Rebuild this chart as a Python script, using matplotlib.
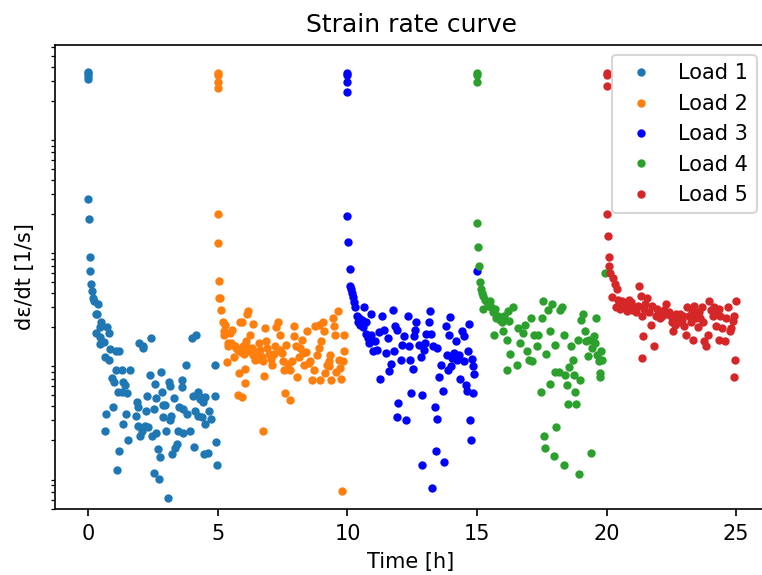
import numpy as np
import matplotlib
matplotlib.use("Agg")
import matplotlib.pyplot as plt

# Load 1 (0-5 h)
t1 = [0.0, 0.0, 0.0, 0.0, 0.0, 0.02, 0.05, 0.08, 0.1, 0.14,
      0.17, 0.22, 0.29, 0.3, 0.33, 0.37, 0.44, 0.45, 0.46, 0.5,
      0.59, 0.63, 0.66, 0.68, 0.73, 0.8, 0.8, 0.85, 0.91, 0.96,
      0.98, 1.05, 1.05, 1.1, 1.15, 1.17, 1.18, 1.3, 1.31, 1.34,
      1.35, 1.42, 1.45, 1.5, 1.55, 1.59, 1.83, 1.86, 1.9, 1.91,
      1.94, 2.0, 2.06, 2.12, 2.13, 2.2, 2.22, 2.25, 2.29, 2.4,
      2.42, 2.46, 2.52, 2.53, 2.57, 2.6, 2.62, 2.69, 2.72, 2.77,
      2.8, 2.84, 2.87, 2.9, 2.97, 2.99, 3.06, 3.1, 3.14, 3.16,
      3.2, 3.24, 3.29, 3.33, 3.44, 3.48, 3.51, 3.6, 3.62, 3.66,
      3.66, 3.77, 3.81, 3.94, 4.02, 4.04, 4.08, 4.13, 4.17, 4.22,
      4.24, 4.27, 4.32, 4.37, 4.42, 4.47, 4.51, 4.51, 4.62, 4.66,
      4.72, 4.87, 4.9, 4.93, 4.97]
r1 = [3.6e-6, 3.5e-6, 3.3e-6, 3.1e-6, 2.7e-7, 1.8e-7, 8.4e-8, 6.3e-8, 4.8e-8, 4.2e-8,
      3.6e-8, 3.4e-8, 2.6e-8, 1.77e-8, 2.6e-8, 3.2e-8, 2.0e-8, 1.43e-8, 1.63e-8, 2.2e-8,
      1.49e-8, 1.08e-8, 2.4e-9, 3.4e-9, 2.0e-8, 1.77e-8, 1.03e-8, 1.28e-8, 7.1e-9, 3.9e-9,
      6.5e-9, 1.24e-8, 8.4e-9, 1.1e-9, 5.3e-9, 1.6e-9, 1.22e-8, 5.3e-9, 8.4e-9, 6.6e-9,
      2.8e-9, 6.2e-9, 3.4e-9, 5.2e-9, 2.0e-9, 8.3e-9, 3.3e-9, 4.4e-9, 3.9e-9, 2.65e-9,
      1.45e-8, 2.2e-9, 2.4e-9, 1.3e-8, 1.35e-8, 2.7e-9, 3.6e-9, 4.9e-9, 2.6e-9, 7.6e-9,
      1.6e-8, 2.2e-9, 1.03e-9, 3.8e-9, 6.3e-9, 4.7e-9, 2.3e-9, 1.67e-9, 9.2e-10, 1.42e-9,
      8.1e-9, 5.3e-9, 3.2e-9, 4.1e-9, 4.1e-9, 2.4e-9, 6.2e-10, 6.5e-9, 6.0e-9, 3.0e-9,
      3.3e-9, 1.5e-9, 4.7e-9, 1.7e-9, 1.85e-9, 2.4e-9, 3.9e-9, 5.9e-9, 6.8e-9, 3.8e-9,
      2.3e-9, 9.3e-9, 3.4e-9, 2.4e-9, 1.6e-8, 4.9e-9, 1.75e-9, 3.6e-9, 1.7e-8, 5.3e-9,
      3.3e-9, 4.9e-9, 4.6e-9, 3.2e-9, 4.4e-9, 1.5e-9, 4.8e-9, 2.8e-9, 1.55e-9, 3.6e-9,
      3.1e-9, 4.9e-9, 9.3e-9, 1.95e-9, 1.2e-9]

# Load 2 (5-10 h)
t2 = [5.0, 5.0, 5.0, 5.0, 5.0, 5.02, 5.04, 5.06, 5.1, 5.13,
      5.2, 5.22, 5.25, 5.29, 5.35, 5.38, 5.4, 5.45, 5.5, 5.55,
      5.62, 5.66, 5.7, 5.79, 5.79, 5.83, 5.85, 5.9, 5.92, 5.92,
      5.98, 6.0, 6.05, 6.05, 6.09, 6.1, 6.14, 6.18, 6.18, 6.25,
      6.3, 6.35, 6.35, 6.44, 6.5, 6.57, 6.6, 6.63, 6.7, 6.76,
      6.76, 6.79, 6.83, 6.87, 6.9, 6.97, 7.05, 7.1, 7.15, 7.19,
      7.26, 7.33, 7.39, 7.4, 7.48, 7.52, 7.57, 7.6, 7.64, 7.71,
      7.77, 7.79, 7.85, 7.92, 7.95, 8.0, 8.05, 8.12, 8.18, 8.24,
      8.28, 8.33, 8.4, 8.44, 8.5, 8.57, 8.63, 8.7, 8.76, 8.83,
      8.89, 8.9, 8.96, 8.98, 9.06, 9.11, 9.15, 9.21, 9.28, 9.3,
      9.34, 9.38, 9.44, 9.47, 9.51, 9.57, 9.62, 9.66, 9.7, 9.75,
      9.8, 9.81, 9.85, 9.88]
r2 = [3.5e-6, 3.4e-6, 2.9e-6, 2.6e-6, 2.0e-7, 1.1e-7, 5.1e-8, 3.6e-8, 3.6e-8, 2.85e-8,
      2.24e-8, 1.83e-8, 1.7e-8, 2.1e-8, 9.9e-9, 1.46e-8, 1.35e-8, 1.77e-8, 1.45e-8, 1.9e-8,
      1.1e-8, 1.35e-8, 1.3e-8, 1.26e-8, 5.05e-9, 7.8e-9, 2.2e-8, 1.2e-8, 2.24e-8, 4.8e-9,
      1.35e-8, 1.15e-8, 8.6e-9, 6.4e-9, 1.5e-8, 1.35e-8, 2.6e-8, 2.75e-8, 1.22e-8, 1.72e-8,
      1.3e-8, 2.15e-8, 1.14e-8, 1.03e-8, 1.2e-8, 1.45e-8, 1.05e-8, 1.26e-8, 1.1e-8, 1.0e-8,
      2.4e-9, 7.4e-9, 1.95e-8, 1.5e-8, 1.3e-8, 1.15e-8, 1.05e-8, 9.3e-9, 1.15e-8, 1.35e-8,
      2.0e-8, 2.2e-8, 1.72e-8, 1.25e-8, 1.17e-8, 1.0e-8, 8.4e-9, 5.2e-9, 1.4e-8, 9.5e-9,
      8.3e-9, 4.5e-9, 1.0e-8, 2.05e-8, 1.68e-8, 1.35e-8, 7.3e-9, 1.1e-8, 1.3e-8, 1.55e-8,
      1.17e-8, 9.3e-9, 1.2e-8, 1.83e-8, 9.6e-9, 1.0e-8, 6.8e-9, 8.3e-9, 2.05e-8, 1.14e-8,
      2.1e-8, 1.3e-8, 6.8e-9, 1.5e-8, 2.2e-8, 1.83e-8, 7.8e-9, 9.3e-9, 1.0e-8, 9.0e-9,
      1.14e-8, 6.8e-9, 2.4e-8, 2.05e-8, 1.72e-8, 8.0e-9, 2.75e-8, 1.03e-8, 8.7e-9, 7.0e-9,
      7.2e-10, 1.0e-8, 1.72e-8, 1.22e-8]

# Load 3 (10-15 h)
t3 = [10.0, 10.0, 10.0, 10.0, 10.0, 10.04, 10.08, 10.1, 10.12, 10.16,
      10.2, 10.25, 10.3, 10.35, 10.4, 10.45, 10.5, 10.55, 10.6, 10.65,
      10.7, 10.72, 10.78, 10.85, 10.9, 10.92, 10.97, 11.05, 11.15, 11.2,
      11.25, 11.34, 11.4, 11.47, 11.55, 11.6, 11.69, 11.76, 11.79, 11.85,
      11.92, 11.92, 11.96, 12.05, 12.1, 12.18, 12.27, 12.33, 12.37, 12.43,
      12.46, 12.54, 12.56, 12.62, 12.66, 12.75, 12.82, 12.86, 12.89, 12.95,
      13.01, 13.05, 13.14, 13.2, 13.23, 13.27, 13.31, 13.36, 13.4, 13.44,
      13.47, 13.53, 13.6, 13.7, 13.73, 13.79, 13.83, 13.88, 13.92, 13.95,
      13.99, 14.05, 14.12, 14.18, 14.22, 14.31, 14.35, 14.41, 14.48, 14.5,
      14.57, 14.61, 14.66, 14.7, 14.73, 14.77, 14.79, 14.83, 14.86, 14.9,
      14.99]
r3 = [3.5e-6, 3.4e-6, 2.9e-6, 2.4e-6, 1.9e-7, 1.14e-7, 6.5e-8, 4.6e-8, 4.3e-8, 4.0e-8,
      3.7e-8, 3.35e-8, 3.0e-8, 2.5e-8, 2.2e-8, 2.4e-8, 2.1e-8, 2.3e-8, 2.0e-8, 3.0e-8,
      2.2e-8, 1.75e-8, 1.6e-8, 1.45e-8, 2.6e-8, 1.7e-8, 1.22e-8, 1.5e-8, 1.26e-8, 1.8e-8,
      6.9e-9, 2.5e-8, 1.9e-8, 1.17e-8, 1.6e-8, 8.2e-9, 9.4e-9, 2.85e-8, 1.22e-8, 2.05e-8,
      1.9e-8, 3.2e-9, 4.3e-9, 1.03e-8, 1.4e-8, 1.68e-8, 3.0e-9, 2.5e-8, 1.35e-8, 1.03e-8,
      5.2e-9, 8.5e-9, 1.68e-8, 1.9e-8, 2.2e-8, 1.4e-8, 1.1e-8, 1.2e-9, 5.05e-9, 1.26e-8,
      1.46e-8, 1.74e-8, 2.2e-8, 2.75e-8, 1.74e-8, 7.6e-10, 1.35e-8, 3.9e-9, 1.6e-9, 3.1e-9,
      1.3e-8, 7.3e-9, 9.3e-9, 5.4e-9, 1.3e-9, 2.05e-8, 1.14e-8, 8.3e-9, 1.7e-8, 2.45e-8,
      9.0e-9, 1.07e-8, 1.17e-8, 1.5e-8, 1.03e-8, 1.14e-8, 6.9e-9, 1.85e-8, 1.68e-8, 1.0e-8,
      6.2e-9, 5.5e-9, 1.22e-8, 2.15e-8, 3.0e-9, 2.0e-9, 1.04e-8, 5.2e-9, 9.0e-9, 7.7e-9,
      6.2e-8]

# Load 4 (15-20 h)
t4 = [15.01, 15.01, 15.01, 15.01, 15.05, 15.08, 15.11, 15.15, 15.18, 15.22,
      15.25, 15.3, 15.38, 15.45, 15.5, 15.55, 15.6, 15.64, 15.68, 15.72,
      15.8, 15.88, 15.95, 16.0, 16.05, 16.15, 16.15, 16.21, 16.25, 16.28,
      16.38, 16.53, 16.6, 16.67, 16.79, 16.86, 16.92, 16.99, 17.08, 17.12,
      17.21, 17.31, 17.37, 17.47, 17.51, 17.55, 17.6, 17.64, 17.68, 17.73,
      17.8, 17.83, 17.89, 17.96, 18.02, 18.02, 18.06, 18.15, 18.21, 18.28,
      18.34, 18.37, 18.41, 18.47, 18.5, 18.54, 18.64, 18.7, 18.73, 18.8,
      18.83, 18.88, 18.92, 18.96, 19.01, 19.09, 19.15, 19.22, 19.27, 19.34,
      19.4, 19.43, 19.5, 19.54, 19.6, 19.63, 19.69, 19.73, 19.75, 19.78,
      19.84, 19.95]
r4 = [3.5e-6, 3.4e-6, 2.9e-6, 1.65e-7, 1.03e-7, 6.9e-8, 5.0e-8, 4.3e-8, 4.0e-8, 2.9e-8,
      3.8e-8, 3.5e-8, 3.3e-8, 3.1e-8, 3.4e-8, 3.0e-8, 2.7e-8, 1.7e-8, 2.9e-8, 2.4e-8,
      2.5e-8, 2.3e-8, 2.2e-8, 1.83e-8, 2.5e-8, 1.55e-8, 8.3e-9, 2.75e-8, 2.25e-8, 1.15e-8,
      3.0e-8, 9.3e-9, 1.95e-8, 1.45e-8, 1.77e-8, 2.1e-8, 1.22e-8, 1.03e-8, 2.4e-8, 1.0e-8,
      1.7e-8, 1.35e-8, 1.72e-8, 5.3e-9, 2.4e-8, 3.4e-8, 2.2e-9, 1.7e-9, 1.15e-8, 2.85e-8,
      6.3e-9, 1.85e-8, 3.2e-8, 1.45e-9, 1.38e-8, 8.1e-9, 2.6e-9, 8.1e-9, 2.85e-8, 3.0e-8,
      1.72e-8, 1.2e-9, 7.6e-9, 6.2e-9, 4.2e-9, 8.9e-9, 1.35e-8, 1.03e-8, 7.6e-9, 5.3e-9,
      4.2e-9, 1.55e-8, 1.0e-9, 6.8e-9, 2.3e-8, 2.6e-8, 1.83e-8, 1.5e-8, 1.12e-8, 1.55e-8,
      1.55e-9, 1.3e-8, 1.68e-8, 1.45e-8, 2.4e-8, 1.14e-8, 1.0e-8, 7.8e-9, 7.3e-9, 1.22e-8,
      1.03e-8, 6.0e-8]

# Load 5 (20-25 h)
t5 = [20.0, 20.0, 20.0, 20.0, 20.04, 20.08, 20.1, 20.15, 20.22, 20.24,
      20.31, 20.35, 20.4, 20.45, 20.5, 20.55, 20.6, 20.65, 20.73, 20.8,
      20.86, 20.9, 20.96, 20.99, 21.05, 21.12, 21.2, 21.25, 21.31, 21.35,
      21.37, 21.4, 21.45, 21.5, 21.57, 21.63, 21.7, 21.76, 21.83, 21.89,
      21.95, 22.02, 22.08, 22.15, 22.21, 22.3, 22.35, 22.41, 22.47, 22.52,
      22.57, 22.64, 22.68, 22.73, 22.8, 22.85, 22.9, 22.95, 22.99, 23.06,
      23.12, 23.19, 23.25, 23.3, 23.32, 23.38, 23.45, 23.51, 23.57, 23.62,
      23.67, 23.73, 23.77, 23.83, 23.9, 23.96, 24.02, 24.09, 24.15, 24.2,
      24.24, 24.32, 24.32, 24.38, 24.47, 24.56, 24.6, 24.69, 24.76, 24.79,
      24.86, 24.9, 24.93, 24.95, 25.0]
r5 = [3.5e-6, 3.4e-6, 2.7e-6, 2.0e-7, 1.28e-7, 8.3e-8, 6.9e-8, 6.0e-8, 3.7e-8, 5.4e-8,
      4.8e-8, 3.0e-8, 4.3e-8, 3.5e-8, 2.9e-8, 3.2e-8, 3.4e-8, 3.0e-8, 3.2e-8, 2.8e-8,
      3.5e-8, 3.1e-8, 3.3e-8, 2.85e-8, 3.0e-8, 2.7e-8, 3.1e-8, 4.65e-8, 3.8e-8, 2.5e-8,
      1.06e-8, 1.68e-8, 2.9e-8, 3.2e-8, 3.6e-8, 2.7e-8, 2.1e-8, 3.1e-8, 1.35e-8, 2.5e-8,
      2.9e-8, 2.7e-8, 2.4e-8, 2.5e-8, 2.85e-8, 3.2e-8, 2.6e-8, 2.7e-8, 2.5e-8, 2.2e-8,
      1.83e-8, 2.1e-8, 2.6e-8, 2.5e-8, 2.2e-8, 2.6e-8, 2.3e-8, 2.5e-8, 2.05e-8, 1.72e-8,
      3.0e-8, 2.5e-8, 2.2e-8, 2.7e-8, 1.55e-8, 3.1e-8, 2.4e-8, 2.0e-8, 2.7e-8, 2.4e-8,
      3.0e-8, 2.24e-8, 1.5e-8, 1.35e-8, 1.72e-8, 3.4e-8, 2.85e-8, 2.5e-8, 3.0e-8, 2.7e-8,
      2.05e-8, 2.9e-8, 1.53e-8, 2.5e-8, 1.95e-8, 1.5e-8, 2.4e-8, 3.0e-8, 1.83e-8, 1.95e-8,
      2.25e-8, 2.5e-8, 7.3e-9, 1.03e-8, 3.4e-8]

labels = ['Load 1', 'Load 2', 'Load 3', 'Load 4', 'Load 5']
colors = ['C0', 'C1', 'b', 'C2', 'C3']

fig = plt.figure(figsize=(762 / 150, 575 / 150), dpi=150)
ax = fig.add_axes([55 / 762, 66 / 575, 712 / 762, 464.3 / 575])

for t, r, lab, c in zip([t1, t2, t3, t4, t5], [r1, r2, r3, r4, r5], labels, colors):
    ax.plot(t, r, '.', color=c, label=lab)

ax.set_yscale('log')
ax.set_xlim(-1.285, 26.19)
ax.set_ylim(4.95e-10, 6.24e-6)
ax.set_yticks([])
ax.set_xticks([0, 5, 10, 15, 20, 25])
ax.set_xlabel('Time [h]')
ax.set_ylabel('dε/dt [1/s]')
ax.set_title('Strain rate curve')
ax.legend(loc='upper right')

fig.savefig('out.png', dpi=150)
